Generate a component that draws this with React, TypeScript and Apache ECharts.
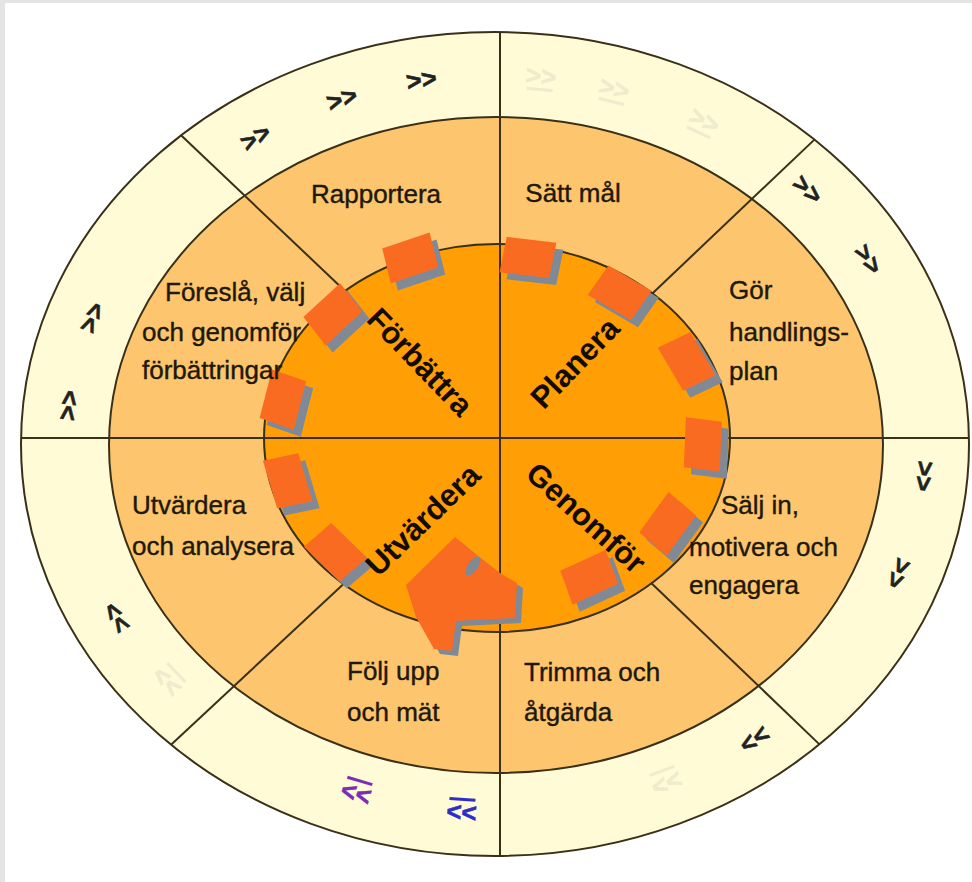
import React, { useEffect, useRef } from "react";
import * as echarts from "echarts";

// ---- content ----
const phaseNames = ["Planera", "Genomför", "Utvärdera", "Förbättra"];
const stepLines = [
  ["Sätt mål"],
  ["Gör", "handlings-", "plan"],
  ["Sälj in,", "motivera och", "engagera"],
  ["Trimma och", "åtgärda"],
  ["Följ upp", "och mät"],
  ["Utvärdera", "och analysera"],
  ["Föreslå, välj", "och genomför", "förbättringar"],
  ["Rapportera"],
];
const chevronText = ">>";
// kind of each chevron in the outer ring: d = dark, f = faded, p = purple, b = blue
const chevronKinds = ["f", "f", "f", "d", "d", "d", "d", "d", "f", "b", "p", "f", "d", "d", "d", "d", "d", "d"];

// ---- layout ----
const W = 972;
const H = 882;
const OUT = { cx: 495, cy: 444, rx: 474, ry: 412 };
const MID = { cx: 496, cy: 445, rx: 387, ry: 328 };
const INN = { cx: 497, cy: 438, rx: 233, ry: 194 };
const RING = { cx: 496, cy: 444, rx: 430, ry: 370 };
const CENTER = { x: 500, y: 438 };
const dividerAngles = [-136.5, -43.5, 43.8, 137];
const chevronParams = [-84, -74, -61, -43.5, -30, 5, 20.5, 53, 66.6, 94.6, 109, 140, 152, -174, -160, -124, -111, -100];
const cogParams = [-168, -138, -112, -82, -55, -26, 2, 31, 61, 139.5, 166];
const cogRadius = [0.94, 0.95, 1.0, 0.94, 0.915, 0.905, 0.884, 0.856, 0.82, 0.91, 0.925];
const stepPos: [number, number, string][][] = [
  [[573, 193, "center"]],
  [[729, 290, "left"], [729, 332, "left"], [729, 371, "left"]],
  [[721, 505, "left"], [689, 547, "left"], [689, 585, "left"]],
  [[524, 672, "left"], [524, 712, "left"]],
  [[347, 671, "left"], [347, 712, "left"]],
  [[132, 505, "left"], [132, 546, "left"]],
  [[165, 292, "left"], [142, 332, "left"], [142, 370, "left"]],
  [[376, 194, "center"]],
];
const phasePos: [number, number, number][] = [
  [575, 363, 46],
  [586, 518, -42],
  [423, 520, 44],
  [420, 362, -46],
];
const bigArrow: [number, number][] = [
  [455, 537], [478, 556], [500, 573], [517, 583], [515, 618], [456, 621],
  [452, 651], [434, 649], [416, 617], [406, 585],
];

const FONT = "'Liberation Sans', Arial, sans-serif";
const LINE = "#3a3018";
const TEXT = "#1e1808";

function rayHit(e: any, ox: number, oy: number, angDeg: number): [number, number] {
  const a = (angDeg * Math.PI) / 180;
  const dx = Math.cos(a), dy = Math.sin(a);
  const px = (ox - e.cx) / e.rx, py = (oy - e.cy) / e.ry;
  const qx = dx / e.rx, qy = dy / e.ry;
  const A = qx * qx + qy * qy;
  const B = 2 * (px * qx + py * qy);
  const C = px * px + py * py - 1;
  const s = (-B + Math.sqrt(B * B - 4 * A * C)) / (2 * A);
  return [ox + s * dx, oy + s * dy];
}

function frame(e: any, tDeg: number, k = 1) {
  const t = (tDeg * Math.PI) / 180;
  const px = e.cx + k * e.rx * Math.cos(t);
  const py = e.cy + k * e.ry * Math.sin(t);
  let tx = -e.rx * Math.sin(t), ty = e.ry * Math.cos(t);
  const tl = Math.hypot(tx, ty);
  tx /= tl; ty /= tl;
  let nx = e.ry * Math.cos(t), ny = e.rx * Math.sin(t);
  const nl = Math.hypot(nx, ny);
  nx /= nl; ny /= nl;
  return { px, py, tx, ty, nx, ny };
}

function buildElements() {
  const els: any[] = [];
  els.push({ type: "rect", shape: { x: 0, y: 0, width: W, height: H }, style: { fill: "#e4e4e4" } });
  els.push({ type: "rect", shape: { x: 5, y: 3, width: W - 5, height: H - 3 }, style: { fill: "#ffffff" } });

  const ell = (e: any, fill: string) => ({
    type: "ellipse",
    shape: { cx: e.cx, cy: e.cy, rx: e.rx, ry: e.ry },
    style: { fill, stroke: LINE, lineWidth: 2 },
  });
  els.push(ell(OUT, "#fffbd7"));
  els.push(ell(MID, "#fdc66e"));
  els.push(ell(INN, "#ff9e05"));

  // dividers
  els.push({ type: "line", shape: { x1: CENTER.x, y1: 32, x2: CENTER.x, y2: 856 }, style: { stroke: LINE, lineWidth: 2 } });
  els.push({ type: "line", shape: { x1: 21, y1: CENTER.y, x2: 969, y2: CENTER.y }, style: { stroke: LINE, lineWidth: 2 } });
  dividerAngles.forEach((a) => {
    const p1 = rayHit(INN, CENTER.x, CENTER.y, a);
    const p2 = rayHit(OUT, CENTER.x, CENTER.y, a);
    els.push({ type: "line", shape: { x1: p1[0], y1: p1[1], x2: p2[0], y2: p2[1] }, style: { stroke: LINE, lineWidth: 2 } });
  });

  // cog blocks along inner ellipse
  const blockShape: [number, number][] = [[-26, -18], [24, -18], [27, 18], [-23, 18]];
  cogParams.forEach((t, i) => {
    const f = frame(INN, t, cogRadius[i]);
    const toXY = (u: number, v: number) => [f.px + u * f.tx + v * f.nx, f.py + u * f.ty + v * f.ny];
    const pts = blockShape.map(([u, v]) => toXY(u, v));
    els.push({
      type: "polygon",
      shape: { points: pts.map(([x, y]) => [x + 7, y + 7]) },
      style: { fill: "#808a96" },
    });
    els.push({ type: "polygon", shape: { points: pts }, style: { fill: "#f96b20" } });
  });
  // big arrowhead
  els.push({ type: "polygon", shape: { points: bigArrow.map(([x, y]) => [x + 6, y + 5]) }, style: { fill: "#808a96" } });
  els.push({ type: "polygon", shape: { points: bigArrow }, style: { fill: "#f96b20" } });
  els.push({ type: "ellipse", shape: { cx: 0, cy: 0, rx: 5, ry: 11 }, x: 473, y: 566, rotation: -0.6, style: { fill: "#808a96" } });

  // chevrons in outer ring
  chevronParams.forEach((t, i) => {
    const f = frame(RING, t);
    const kind = chevronKinds[i];
    const color = kind === "f" ? "#efebcc" : kind === "p" ? "#7a2db5" : kind === "b" ? "#2d2dc8" : "#222222";
    const children: any[] = [
      {
        type: "text",
        style: {
          text: chevronText, x: 0, y: 0, fill: color, fontSize: 26, fontWeight: "bold",
          fontFamily: FONT, align: "center", verticalAlign: "middle",
          stroke: color, lineWidth: 0.6,
        },
      },
    ];
    if (kind !== "d") {
      children.push({ type: "rect", shape: { x: -13, y: 12, width: 26, height: 3 }, style: { fill: color } });
    }
    els.push({
      type: "group",
      x: f.px,
      y: f.py,
      rotation: -Math.atan2(f.ty, f.tx),
      children,
    });
  });

  // step labels
  stepLines.forEach((lines, i) => {
    lines.forEach((txt, j) => {
      const [x, y, align] = stepPos[i][j];
      els.push({
        type: "text",
        x, y,
        style: {
          text: txt, fill: TEXT, fontSize: 26, fontFamily: FONT, align, verticalAlign: "middle",
          stroke: TEXT, lineWidth: 0.4,
        },
      });
    });
  });

  // phase labels
  phaseNames.forEach((name, i) => {
    const [x, y, r] = phasePos[i];
    els.push({
      type: "text",
      x, y,
      rotation: (r * Math.PI) / 180,
      style: { text: name, fill: "#140c02", fontSize: 31, fontWeight: "bold", fontFamily: FONT, align: "center", verticalAlign: "middle" },
    });
  });
  return els;
}

export default function App() {
  const ref = useRef<HTMLDivElement>(null);
  useEffect(() => {
    document.body.style.margin = "0";
    const chart = echarts.init(ref.current!, null, { renderer: "svg", width: W, height: H });
    chart.setOption({ animation: false, graphic: { elements: buildElements() } });
    return () => chart.dispose();
  }, []);
  return <div ref={ref} style={{ width: W, height: H }} />;
}
